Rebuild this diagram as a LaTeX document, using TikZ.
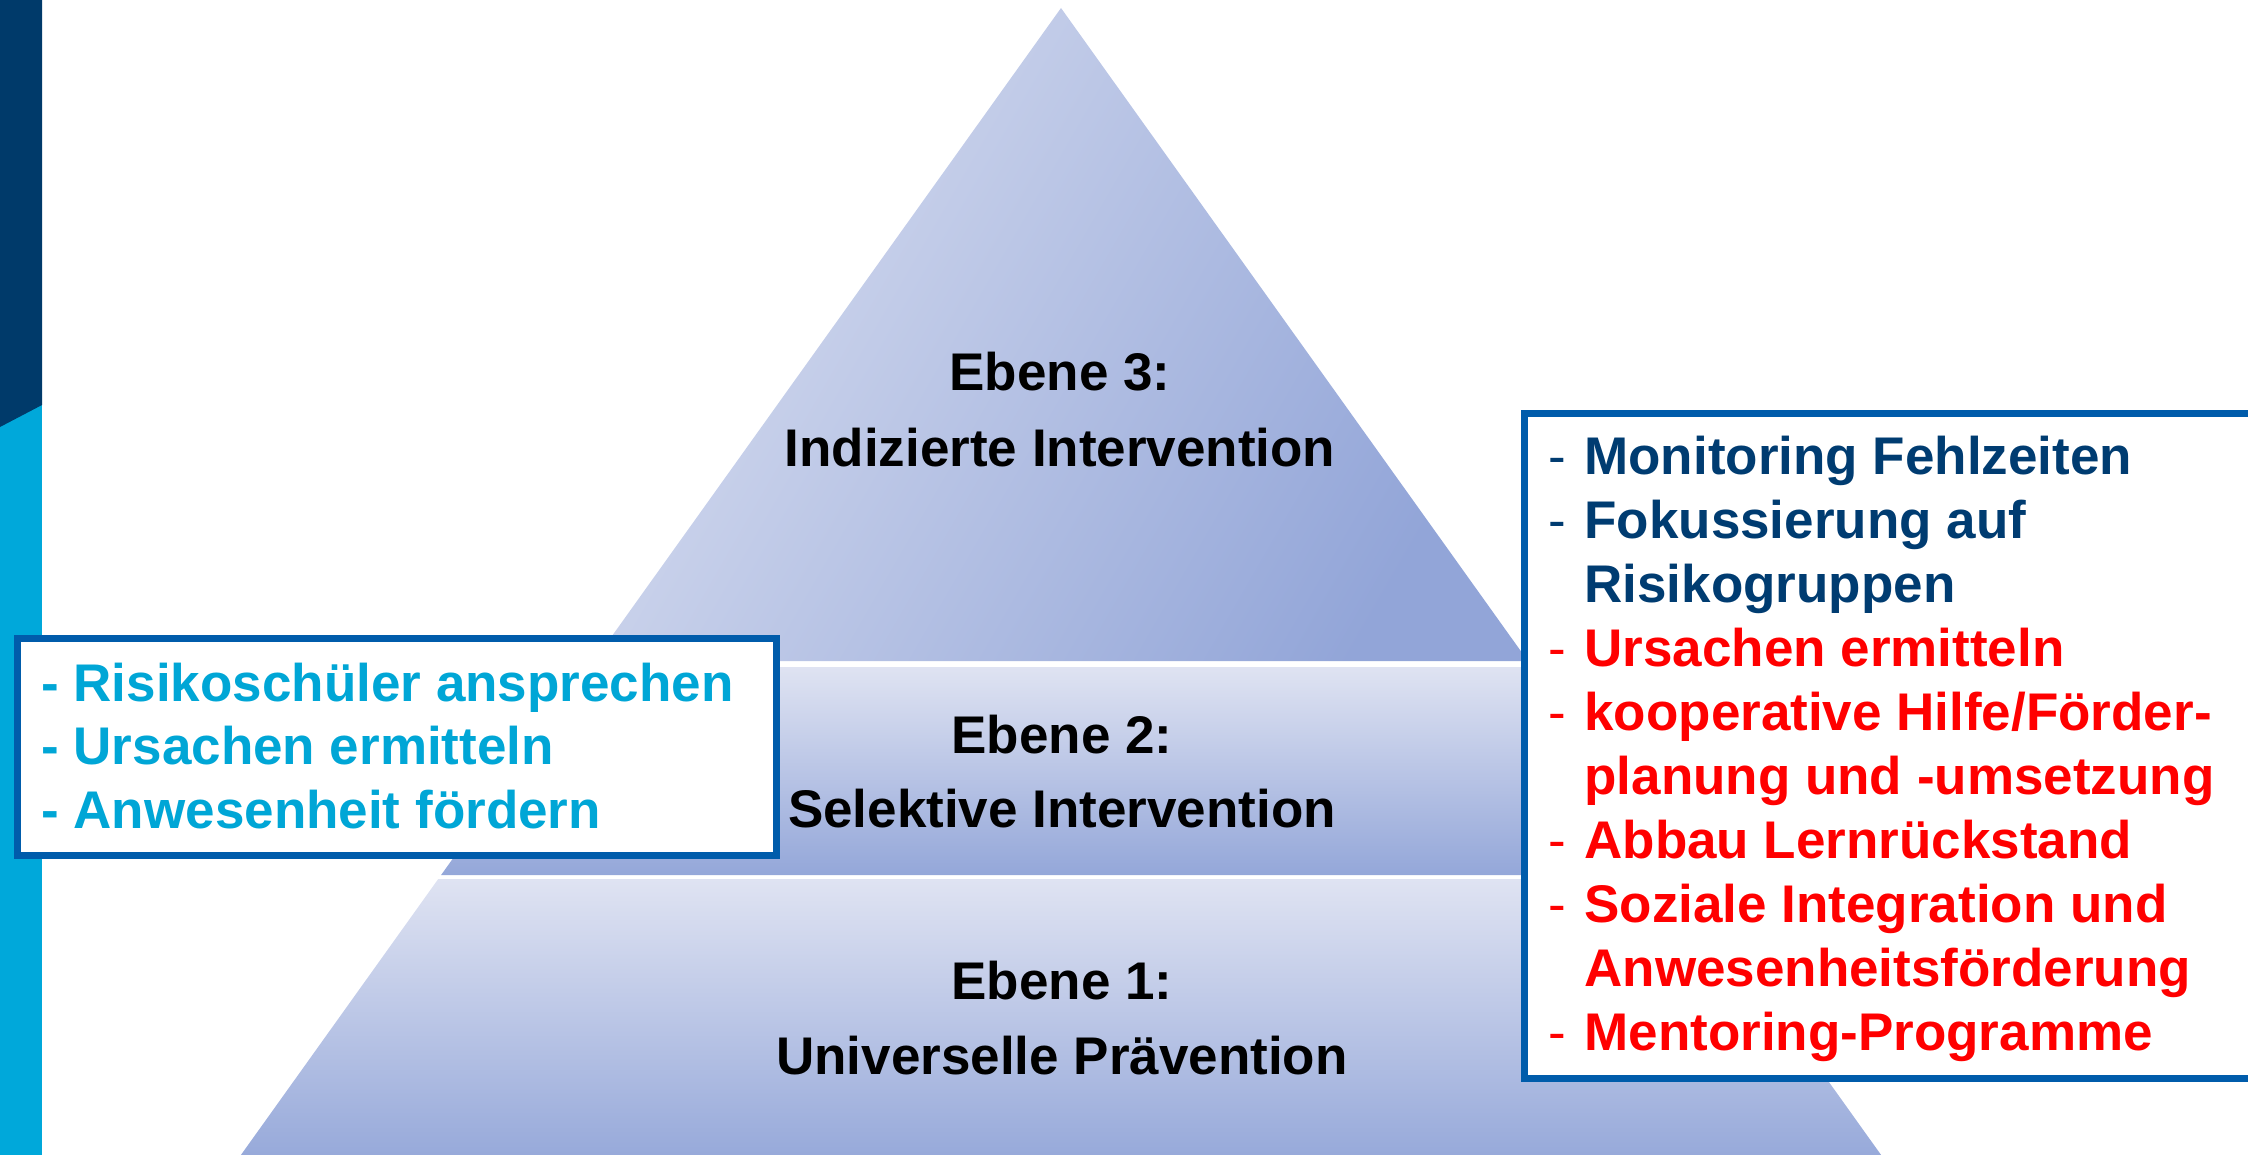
\documentclass[tikz,border=0pt]{standalone}
\usepackage{fontspec}
\setmainfont{Liberation Sans}
\definecolor{barnavy}{HTML}{003A6A}
\definecolor{barcyan}{HTML}{00A8DA}
\definecolor{boxblue}{HTML}{005CAB}
\definecolor{txtcyan}{HTML}{00A6D6}
\definecolor{txtnavy}{HTML}{003C71}
\definecolor{txtred}{HTML}{FF0000}
\definecolor{pyrlight}{HTML}{D6DCEF}
\definecolor{pyrdark}{HTML}{92A5D8}
\definecolor{bandtop}{HTML}{DFE3F2}
\definecolor{bandbot}{HTML}{94A7D9}
\begin{document}
\begin{tikzpicture}[x=0.5pt,y=-0.5pt,
  lvl/.style={font=\fontsize{26.5}{30}\selectfont\bfseries, text=black, inner sep=0pt, anchor=base},
  item/.style={font=\fontsize{26.5}{30}\selectfont\bfseries, inner sep=0pt, anchor=base west},
  bullet/.style={font=\fontsize{26.5}{30}\selectfont, inner sep=0pt, anchor=base west},
  infobox/.style={draw=boxblue, line width=3.5pt, fill=white, inner sep=0pt}]
\useasboundingbox (0,0) rectangle (2248,1155);
\clip (0,0) rectangle (2248,1155);

% side bar
\fill[barcyan] (0,0) rectangle (42,1155);
\fill[barnavy] (0,0) -- (42,0) -- (42,405) -- (0,427) -- cycle;

% pyramid: apex (1061,8), half-width grows 0.715 per unit of height
\shade[top color=pyrlight, bottom color=pyrdark, shading angle=60]
  (1061,8) -- ({1061+0.715*653},661) -- ({1061-0.715*653},661) -- cycle;
\shade[top color=bandtop, bottom color=bandbot]
  ({1061-0.715*659},667) -- ({1061+0.715*659},667) --
  ({1061+0.715*867},875) -- ({1061-0.715*867},875) -- cycle;
\shade[top color=bandtop, bottom color=bandbot]
  ({1061-0.715*871},879) -- ({1061+0.715*871},879) --
  ({1061+0.715*1160},1168) -- ({1061-0.715*1160},1168) -- cycle;

% level labels
\node[lvl] (e3a) at (1060,390) {Ebene 3:};
\node[lvl] (e3b) at (1060,466) {Indizierte Intervention};
\node[lvl] (e2a) at (1062,753) {Ebene 2:};
\node[lvl] (e2b) at (1062,827) {Selektive Intervention};
\node[lvl] (e1a) at (1062,999) {Ebene 1:};
\node[lvl] (e1b) at (1062,1074) {Universelle Prävention};

% left box
\node[infobox, minimum width=379.5pt, minimum height=108.5pt] (lbox) at (396.5,746.5) {};
\node[item, text=txtcyan] (l1) at (41,701) {- Risikoschüler ansprechen};
\node[item, text=txtcyan] (l2) at (41,764) {- Ursachen ermitteln};
\node[item, text=txtcyan] (l3) at (41,828) {- Anwesenheit fördern};

% right box
\node[infobox, minimum width=373pt, minimum height=332.5pt] (rbox) at (1897,745.5) {};
\node[bullet, text=txtnavy] (d1) at (1548,474) {-};
\node[item, text=txtnavy] (r1) at (1584,474) {Monitoring Fehlzeiten};
\node[bullet, text=txtnavy] (d2) at (1548,538) {-};
\node[item, text=txtnavy] (r2) at (1584,538) {Fokussierung auf};
\node[item, text=txtnavy] (r3) at (1584,602) {Risikogruppen};
\node[bullet, text=txtred] (d4) at (1548,666) {-};
\node[item, text=txtred] (r4) at (1584,666) {Ursachen ermitteln};
\node[bullet, text=txtred] (d5) at (1548,730) {-};
\node[item, text=txtred] (r5) at (1584,730) {kooperative Hilfe/Förder-};
\node[item, text=txtred] (r6) at (1584,794) {planung und -umsetzung};
\node[bullet, text=txtred] (d7) at (1548,858) {-};
\node[item, text=txtred] (r7) at (1584,858) {Abbau Lernrückstand};
\node[bullet, text=txtred] (d8) at (1548,922) {-};
\node[item, text=txtred] (r8) at (1584,922) {Soziale Integration und};
\node[item, text=txtred] (r9) at (1584,986) {Anwesenheitsförderung};
\node[bullet, text=txtred] (d10) at (1548,1050) {-};
\node[item, text=txtred] (r10) at (1584,1050) {Mentoring-Programme};
\end{tikzpicture}
\end{document}
